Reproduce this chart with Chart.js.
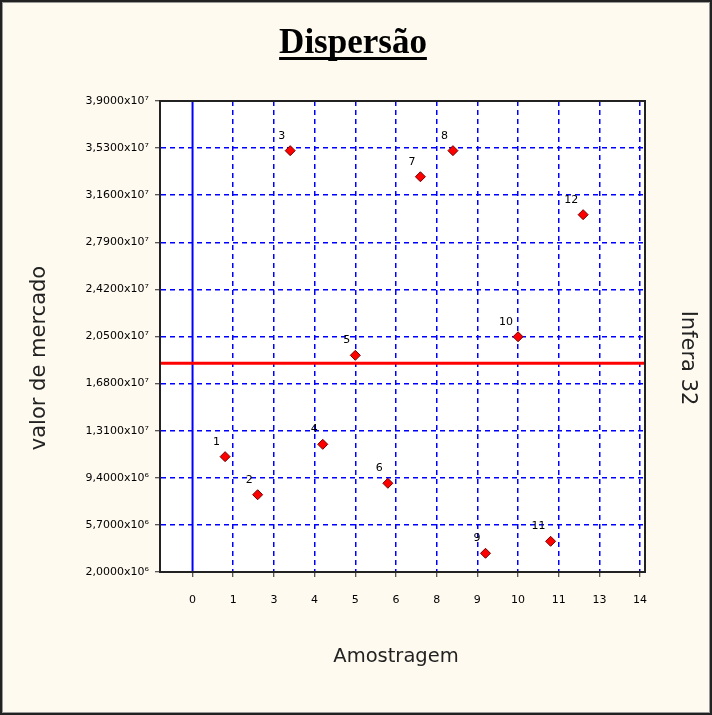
<!DOCTYPE html>
<html>
<head>
    <meta charset="utf-8">
    <title>Dispersão</title>
    <script src="https://cdn.jsdelivr.net/npm/chart.js"></script>
    <style>
        body { margin: 0; background: #fffaf0; }
        canvas { display: block; }
    </style>
</head>
<body>
<canvas id="chart" width="712" height="715"></canvas>

<script>
    // amostras (eixo x) e valor de mercado (eixo y)
    const amostras = [1, 2, 3, 4, 5, 6, 7, 8, 9, 10, 11, 12];
    const valores = [1.106e7, 8.07e6, 3.51e7, 1.203e7, 1.902e7, 8.97e6,
                     3.305e7, 3.51e7, 3.47e6, 2.048e7, 4.41e6, 3.007e7];
    const media = 1.84e7;

    const xTickValues = [0, 1.25, 2.5, 3.75, 5, 6.25, 7.5, 8.75, 10, 11.25, 12.5, 13.75];
    const xTickLabels = ['0', '1', '3', '4', '5', '6', '8', '9', '10', '11', '13', '14'];
    const yTickValues = [2.0e6, 5.7e6, 9.4e6, 1.31e7, 1.68e7, 2.05e7, 2.42e7, 2.79e7, 3.16e7, 3.53e7, 3.9e7];
    const yTickLabels = ['2,0000x10⁶', '5,7000x10⁶', '9,4000x10⁶', '1,3100x10⁷', '1,6800x10⁷',
                         '2,0500x10⁷', '2,4200x10⁷', '2,7900x10⁷', '3,1600x10⁷', '3,5300x10⁷', '3,9000x10⁷'];

    const titulo = 'Dispersão';
    const tituloX = 'Amostragem';
    const tituloY = 'valor de mercado';
    const rotuloDireita = 'Infera 32';

    const W = 712, H = 715;
    const SANS = "'DejaVu Sans', Verdana, sans-serif";
    const SERIF = '"Liberation Serif", "Times New Roman", serif';

    const decor = {
        id: 'decor',
        beforeDraw(chart) {
            const {ctx, chartArea: a} = chart;
            ctx.save();
            ctx.fillStyle = '#fffaf0';
            ctx.fillRect(0, 0, W, H);
            ctx.fillStyle = '#ffffff';
            ctx.fillRect(a.left, a.top, a.right - a.left, a.bottom - a.top);
            ctx.strokeStyle = '#222';
            ctx.lineWidth = 2;
            ctx.strokeRect(1, 1, W - 2, H - 2);
            ctx.strokeStyle = '#999';
            ctx.lineWidth = 1;
            ctx.strokeRect(2.5, 2.5, W - 5, H - 5);
            ctx.restore();
        },
        beforeDatasetsDraw(chart) {
            // linha do zero (azul) e linha da média (vermelha)
            const {ctx, chartArea: a, scales} = chart;
            ctx.save();
            const x0 = scales.x.getPixelForValue(0);
            ctx.strokeStyle = '#0000ff';
            ctx.lineWidth = 2;
            ctx.beginPath();
            ctx.moveTo(x0, a.top);
            ctx.lineTo(x0, a.bottom);
            ctx.stroke();
            const ym = scales.y.getPixelForValue(media);
            ctx.strokeStyle = '#ff0000';
            ctx.lineWidth = 3;
            ctx.beginPath();
            ctx.moveTo(a.left, ym);
            ctx.lineTo(a.right, ym);
            ctx.stroke();
            ctx.restore();
        },
        afterDatasetsDraw(chart) {
            const {ctx, chartArea: a} = chart;
            ctx.save();
            ctx.font = '11px ' + SANS;
            ctx.fillStyle = '#000';
            ctx.textAlign = 'right';
            ctx.textBaseline = 'middle';
            chart.getDatasetMeta(0).data.forEach((pt, i) => {
                ctx.fillText(String(amostras[i]), pt.x - 5, pt.y - 15);
            });
            ctx.strokeStyle = '#222';
            ctx.lineWidth = 2;
            ctx.strokeRect(a.left, a.top, a.right - a.left, a.bottom - a.top);
            ctx.restore();
        },
        afterDraw(chart) {
            const {ctx} = chart;
            ctx.save();
            // título sublinhado
            ctx.font = 'bold 35px ' + SERIF;
            ctx.fillStyle = '#000';
            ctx.textAlign = 'center';
            ctx.textBaseline = 'alphabetic';
            ctx.fillText(titulo, 353, 53);
            const w = ctx.measureText(titulo).width;
            ctx.fillRect(353 - w / 2, 57, w, 3);

            // títulos dos eixos
            ctx.fillStyle = '#222';
            ctx.textBaseline = 'middle';
            ctx.font = '19.5px ' + SANS;
            ctx.fillText(tituloX, 396, 657);

            ctx.font = '21px ' + SANS;
            ctx.save();
            ctx.translate(40, 358);
            ctx.rotate(-Math.PI / 2);
            ctx.fillText(tituloY, 0, 0);
            ctx.restore();

            ctx.save();
            ctx.translate(687, 358);
            ctx.rotate(Math.PI / 2);
            ctx.fillText(rotuloDireita, 0, 0);
            ctx.restore();
            ctx.restore();
        }
    };

    const ctx = document.getElementById('chart').getContext('2d');
    const chart = new Chart(ctx, {
        type: 'scatter',
        data: {
            datasets: [{
                data: amostras.map((a, i) => ({x: a, y: valores[i]})),
                pointStyle: 'rectRot',
                radius: 5,
                hoverRadius: 5,
                backgroundColor: '#ff0000',
                borderColor: '#700000',
                borderWidth: 1
            }]
        },
        options: {
            responsive: false,
            animation: false,
            devicePixelRatio: 1,
            layout: { padding: { left: 0, top: 101, bottom: 0, right: W - 645 } },
            plugins: {
                legend: { display: false },
                tooltip: { enabled: false },
                title: { display: false }
            },
            scales: {
                x: {
                    type: 'linear',
                    min: -1,
                    max: 13.9,
                    afterBuildTicks: s => { s.ticks = xTickValues.map(v => ({value: v})); },
                    afterFit: s => { s.height = H - 572; },
                    ticks: {
                        autoSkip: false,
                        maxRotation: 0,
                        padding: 17,
                        color: '#000',
                        font: { family: SANS, size: 11 },
                        callback: (v, i) => xTickLabels[i]
                    },
                    grid: {
                        // a linha do zero é desenhada cheia pelo plugin
                        color: c => (c.tick && c.tick.value === 0) ? 'rgba(0,0,0,0)' : '#0000ff',
                        lineWidth: 1.5, tickColor: '#222', tickLength: 5, tickWidth: 1
                    },
                    border: { color: '#222', width: 2, dash: [5, 4] }
                },
                y: {
                    type: 'linear',
                    position: 'left',
                    min: 2.0e6,
                    max: 3.9e7,
                    afterBuildTicks: s => { s.ticks = yTickValues.map(v => ({value: v})); },
                    afterFit: s => { s.width = 160; },
                    ticks: {
                        padding: 6,
                        color: '#000',
                        font: { family: SANS, size: 11 },
                        callback: (v, i) => yTickLabels[i]
                    },
                    grid: { color: '#0000ff', lineWidth: 1.5, tickColor: '#222', tickLength: 5, tickWidth: 1 },
                    border: { color: '#222', width: 2, dash: [5, 4] }
                }
            }
        },
        plugins: [decor]
    });
</script>
</body>
</html>
